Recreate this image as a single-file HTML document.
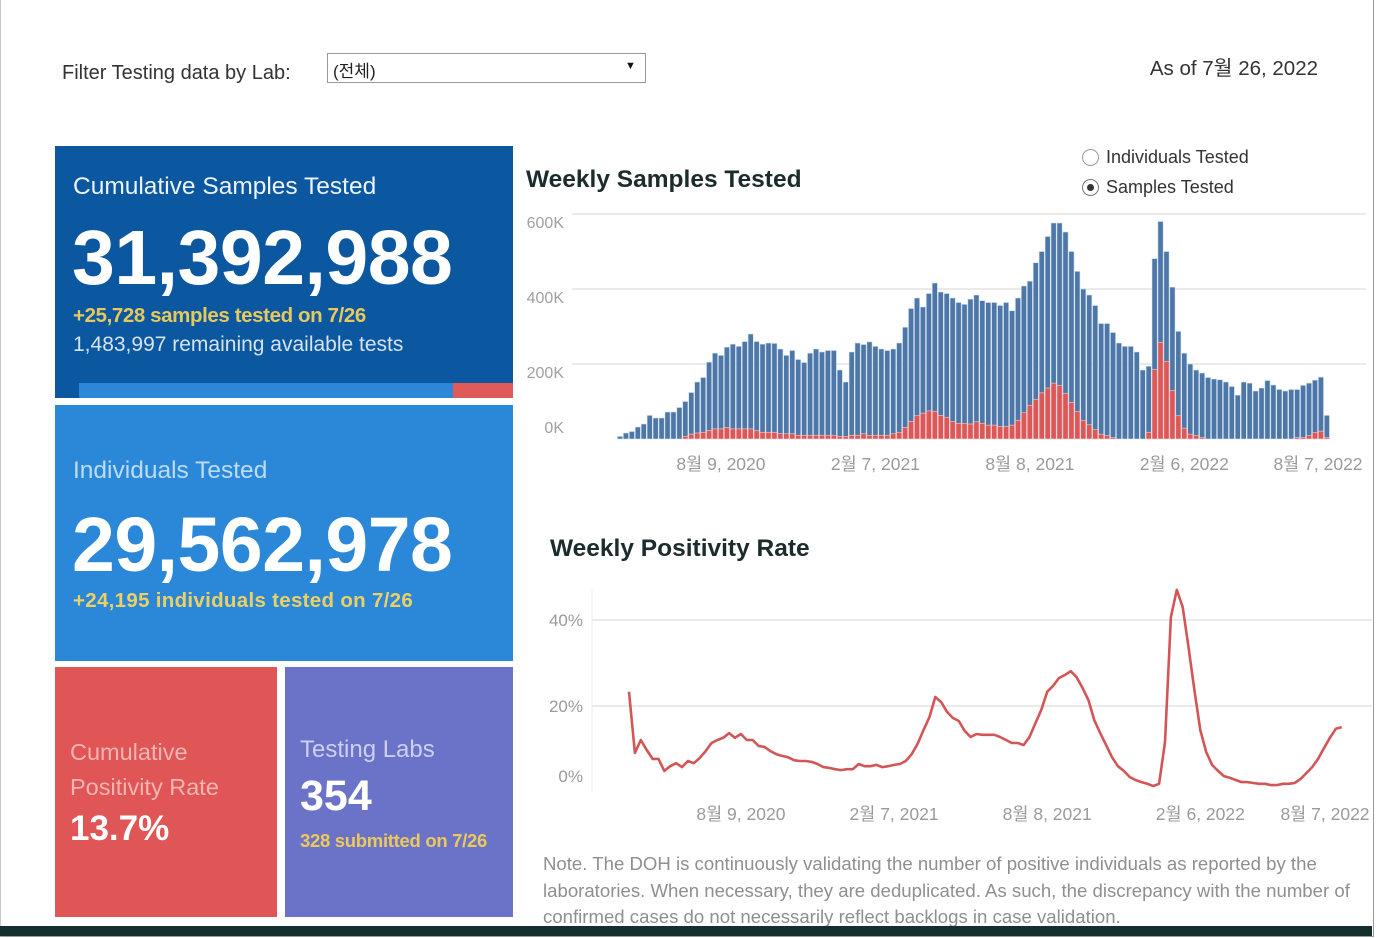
<!DOCTYPE html>
<html><head><meta charset="utf-8">
<style>
*{margin:0;padding:0;box-sizing:border-box}
body{width:1382px;height:938px;overflow:hidden;background:#fff;font-family:"Liberation Sans","Noto Sans CJK KR",sans-serif;position:relative}
.abs{position:absolute;white-space:nowrap}
.frame{position:absolute;left:0;top:0;width:1374px;height:937px;border:1px solid #9a9a9a;border-top:none;border-left:1px solid #c8c8c8}
</style></head><body>
<div class="frame"></div>

<div class="abs" style="left:62px;top:62px;font-size:20px;color:#333">Filter Testing data by Lab:</div>
<div class="abs" style="left:327px;top:53px;width:319px;height:30px;border:1px solid #999;background:#fff">
  <span style="position:absolute;left:5px;top:3px;font-size:17px;color:#222">(전체)</span>
  <span style="position:absolute;left:297px;top:6px;font-size:11px;color:#111">▼</span>
</div>
<div class="abs" style="right:64px;top:51px;font-size:20.5px;color:#333">As of 7월 26, 2022</div>

<div class="abs" style="left:55px;top:146px;width:458px;height:252px;background:#0b57a0">
  <div class="abs" style="left:18px;top:27px;font-size:24.5px;color:#eef4fb">Cumulative Samples Tested</div>
  <div class="abs" style="left:17px;top:68px;font-size:77px;font-weight:bold;color:#fff;letter-spacing:-0.5px">31,392,988</div>
  <div class="abs" style="left:18px;top:158px;font-size:20.5px;font-weight:bold;color:#e6c95c;letter-spacing:-0.4px">+25,728 samples tested on 7/26</div>
  <div class="abs" style="left:18px;top:187px;font-size:21px;color:#d6e3f1">1,483,997 remaining available tests</div>
  <div class="abs" style="left:24px;top:237px;width:374px;height:15px;background:#2e86d8"></div>
  <div class="abs" style="left:398px;top:237px;width:60px;height:15px;background:#e05a5a"></div>
</div>

<div class="abs" style="left:55px;top:405px;width:458px;height:256px;background:#2b88d9">
  <div class="abs" style="left:18px;top:52px;font-size:24.5px;color:#bcdcf6">Individuals Tested</div>
  <div class="abs" style="left:17px;top:96px;font-size:77px;font-weight:bold;color:#fff;letter-spacing:-0.5px">29,562,978</div>
  <div class="abs" style="left:18px;top:184px;font-size:20.5px;font-weight:bold;color:#ecd063;letter-spacing:0.3px">+24,195 individuals tested on 7/26</div>
</div>

<div class="abs" style="left:55px;top:667px;width:222px;height:250px;background:#e05555">
  <div class="abs" style="left:15px;top:68px;font-size:23.5px;line-height:35px;color:#f6b5b5">Cumulative<br>Positivity Rate</div>
  <div class="abs" style="left:15px;top:142px;font-size:35px;font-weight:bold;color:#fff">13.7%</div>
</div>

<div class="abs" style="left:285px;top:667px;width:228px;height:250px;background:#6b73c8">
  <div class="abs" style="left:15px;top:69px;font-size:24px;color:#cdd0f0">Testing Labs</div>
  <div class="abs" style="left:15px;top:105px;font-size:43px;font-weight:bold;color:#fff">354</div>
  <div class="abs" style="left:15px;top:163px;font-size:18.5px;font-weight:bold;color:#ecc95c;letter-spacing:-0.3px">328 submitted on 7/26</div>
</div>

<div class="abs" style="left:1082px;top:147px;font-size:18px;color:#333">
  <span style="display:inline-block;width:17px;height:17px;border:1px solid #999;border-radius:50%;vertical-align:-3px;margin-right:7px"></span>Individuals Tested</div>
<div class="abs" style="left:1082px;top:177px;font-size:18px;color:#333">
  <span style="display:inline-block;width:17px;height:17px;border:1px solid #777;border-radius:50%;vertical-align:-3px;margin-right:7px;position:relative"><span style="position:absolute;left:4px;top:4px;width:7px;height:7px;border-radius:50%;background:#333"></span></span>Samples Tested</div>

<div class="abs" style="left:526px;top:166px;font-size:24.5px;font-weight:bold;color:#1c2b2b">Weekly Samples Tested</div>
<div class="abs" style="left:550px;top:535px;font-size:24.5px;font-weight:bold;color:#1c2b2b">Weekly Positivity Rate</div>

<svg id="charts" width="1382" height="938" style="position:absolute;left:0;top:0" font-family="Liberation Sans, Noto Sans CJK KR, sans-serif"></svg>

<div class="abs" style="left:543px;top:851px;width:830px;height:75px;overflow:hidden;white-space:normal;font-size:18.6px;line-height:26.5px;color:#8f8f8f">Note. The DOH is continuously validating the number of positive individuals as reported by the laboratories. When necessary, they are deduplicated. As such, the discrepancy with the number of confirmed cases do not necessarily reflect backlogs in case validation.</div>
<div class="abs" style="left:0;top:926px;width:1372px;height:10px;background:#13302f"></div>

<script>
const samplesK = [7,16,20,32,40,63,56,56,72,72,84,100,124,152,164,205,229,223,245,253,247,260,280,260,253,256,255,240,223,236,212,204,229,240,232,236,236,184,152,232,256,252,259,247,240,236,240,256,298,348,376,352,388,416,392,388,376,364,359,373,384,369,364,364,356,364,342,376,408,421,470,500,540,576,576,552,500,447,400,384,356,308,308,284,256,247,247,232,184,194,481,580,500,405,287,229,200,184,176,164,160,158,152,140,117,152,149,128,136,156,144,132,128,132,132,143,149,157,165,63];
const positiveK = [0,0,0,0,0,0,0,0,0,0,0,7,13,16,18,23,27,27,31,27,27,27,27,22,18,18,18,14,14,14,10,10,10,10,10,10,10,7,7,10,10,14,10,10,10,10,14,18,31,47,62,69,75,74,63,58,47,42,42,40,46,42,37,37,33,33,37,50,70,90,106,123,136,149,143,122,98,74,50,38,25,13,9,4,0,0,0,0,0,18,185,258,207,129,62,29,13,9,4,0,0,0,0,0,0,0,0,0,0,0,0,0,0,0,4,4,9,17,21,4];
const barTickLabels = ["8월 9, 2020","2월 7, 2021","8월 8, 2021","2월 6, 2022","8월 7, 2022"];
const barTickIdx = [17,43,69,95,121];
const barYTicks = [0,200,400,600];
const positivity = [23.3,9.1,12.1,9.8,7.7,7.7,4.9,6.0,6.7,5.8,7.2,6.7,7.9,9.5,11.4,12.1,12.6,13.7,12.6,13.5,12.1,12.1,10.7,10.5,9.5,8.8,8.4,8.1,7.4,7.2,7.2,7.0,6.5,5.8,5.6,5.3,5.1,5.3,5.3,6.5,6.0,6.0,6.3,5.8,6.0,6.3,6.5,7.2,8.8,11.2,14.4,17.4,22.1,20.9,18.6,17.2,16.5,14.2,12.8,13.5,13.3,13.3,13.3,12.8,12.1,11.4,11.4,10.9,12.8,16.0,19.1,23.3,24.7,26.5,27.2,28.1,26.7,24.2,21.4,16.7,13.7,10.9,8.1,6.0,4.9,3.5,2.8,2.3,1.9,1.4,1.9,11.6,40.7,47.0,43.0,33.7,23.7,14.4,9.3,6.3,4.9,3.7,3.3,2.8,2.3,2.3,2.1,1.9,1.9,1.6,1.6,1.9,1.9,2.1,3.0,4.4,5.8,7.7,10.2,12.6,14.7,15.1];
const lineTickLabels = ["8월 9, 2020","2월 7, 2021","8월 8, 2021","2월 6, 2022","8월 7, 2022"];
const lineTickIdx = [19,45,71,97,123];
const lineYTicks = [0,20,40];

const NS="http://www.w3.org/2000/svg";
const svg=document.getElementById('charts');
function mk(tag,attrs,parent){const e=document.createElementNS(NS,tag);for(const k in attrs)e.setAttribute(k,attrs[k]);(parent||svg).appendChild(e);return e;}

const bx=i=>620+i*5.94;
const by=v=>439-v*0.375;
const gBar=mk('g',{});


barYTicks.forEach(t=>{
  const l=mk('line',{x1:572,x2:1366,y1:by(t),y2:by(t),stroke:t===0?'#fff':'#e4e4e4','stroke-width':1.5},gBar);
  
  
  const tx=mk('text',{x:564,y:by(t)+(t===0?-6:14),'text-anchor':'end','font-size':16,fill:'#a0a0a0'},gBar);
  tx.textContent=t+'K';
  
  
});
samplesK.forEach((v,i)=>{
  const r=mk('rect',{x:bx(i)-2.6,y:by(v),width:5.2,height:by(0)-by(v),fill:'#4e76a6',stroke:'#cfe3f3','stroke-width':0.6},gBar);
  
  
});
positiveK.forEach((v,i)=>{
  if(v<=0)return;
  const r=mk('rect',{x:bx(i)-2.6,y:by(v),width:5.2,height:by(0)-by(v),fill:'#dc5757',stroke:'#f6d0d0','stroke-width':0.6},gBar);
  
  
});
barTickLabels.forEach((s,k)=>{
  const t=mk('text',{x:Math.min(bx(barTickIdx[k]),1318),y:470,'text-anchor':'middle','font-size':17.5,fill:'#9a9a9a'},gBar);
  t.textContent=s;
  
  
});

const lx=i=>629+i*5.89;
const ly=v=>792-v*4.3;
const gLine=mk('g',{});


mk('line',{x1:592,x2:592,y1:590,y2:792,stroke:'#eeeeee','stroke-width':1},gLine);
lineYTicks.forEach(t=>{
  if(t>0){
    const l=mk('line',{x1:592,x2:1372,y1:ly(t),y2:ly(t),stroke:'#e4e4e4','stroke-width':1.5},gLine);
    
    
  }
  const tx=mk('text',{x:583,y:(t===0?782:ly(t)+6),'text-anchor':'end','font-size':17,fill:'#9a9a9a'},gLine);
  tx.textContent=t+'%';
  
  
});
const path=mk('path',{d:positivity.map((v,i)=>(i?'L':'M')+lx(i).toFixed(1)+' '+ly(v).toFixed(1)).join(' '),fill:'none',stroke:'#d35656','stroke-width':2.6,'stroke-linejoin':'round'},gLine);


lineTickLabels.forEach((s,k)=>{
  const t=mk('text',{x:Math.min(lx(lineTickIdx[k]),1325),y:820,'text-anchor':'middle','font-size':17.5,fill:'#9a9a9a'},gLine);
  t.textContent=s;
  
  
});
</script>
</body></html>
